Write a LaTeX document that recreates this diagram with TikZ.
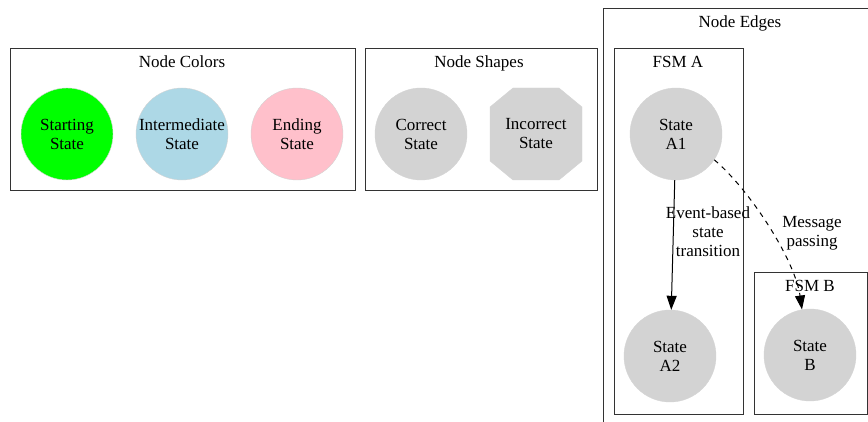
\documentclass[tikz,border=0pt]{standalone}
\usepackage{fontspec}
\setmainfont{Liberation Serif}
\usetikzlibrary{arrows.meta}
\definecolor{gvgray}{HTML}{D3D3D3}
\definecolor{gvblue}{HTML}{ADD8E6}
\definecolor{gvpink}{HTML}{FFC0CB}
\definecolor{gvgreen}{HTML}{00FF00}
\newcommand{\gvfont}{\fontsize{17}{19}\selectfont}
\tikzset{
  state/.style={
    circle,
    minimum size=92pt,
    inner sep=0pt,
    draw=gvgray,
    fill=gvgray,
    align=center,
    font=\gvfont,
  },
  cluster/.style={
    draw=black!80,
    line width=0.9pt,
  },
  cluster title/.style={
    anchor=base,
    font=\gvfont,
  },
  edge label/.style={
    align=center,
    font=\gvfont,
  },
  transition/.style={
    line width=1pt,
    -{Triangle[length=14pt,width=10pt]},
  },
  message/.style={
    transition,
    dash pattern=on 5pt off 5pt,
  }
}

\begin{document}
\begin{tikzpicture}[x=1pt,y=-1pt]
\useasboundingbox (0,0) rectangle (868,422);

% clusters
\draw[cluster] (10,48) rectangle (355,190);
\draw[cluster] (365,48) rectangle (597,190);
\draw[cluster] (603,8) rectangle (880,440);
\draw[cluster] (614,48) rectangle (743,414);
\draw[cluster] (754,272) rectangle (867,414);

\node[cluster title] (colors) at (182,68) {Node Colors};
\node[cluster title] (shapes) at (479,68) {Node Shapes};
\node[cluster title] (edges) at (740,28) {Node Edges};
\node[cluster title] (fsma) at (678,68) {FSM A};
\node[cluster title] (fsmb) at (810,291) {FSM B};

% node colors
\node[state, fill=gvgreen] (starting) at (67,134) {Starting\\State};
\node[state, fill=gvblue] (intermediate) at (182,134) {Intermediate\\State};
\node[state, fill=gvpink] (ending) at (297,134) {Ending\\State};

% node shapes
\node[state] (correct) at (421,134) {Correct\\State};
\filldraw[draw=gvgray, fill=gvgray] (513,88) -- (559,88) -- (582,107) -- (582,161)
  -- (559,180) -- (513,180) -- (490,161) -- (490,107) -- cycle;
\node[align=center, font=\gvfont] (incorrect) at (536,134) {Incorrect\\State};

% node edges
\node[state] (a1) at (676,134) {State\\A1};
\node[state] (a2) at (670,356) {State\\A2};
\node[state] (b) at (810,355) {State\\B};

\node[edge label] (event) at (708,232) {Event-based\\state\\transition};
\node[edge label] (passing) at (812,233) {Message\\passing};

\draw[transition] (a1) -- (a2);
\draw[message] (a1.-34) .. controls (750,190) and (795,260) .. (b.100);

\end{tikzpicture}
\end{document}
